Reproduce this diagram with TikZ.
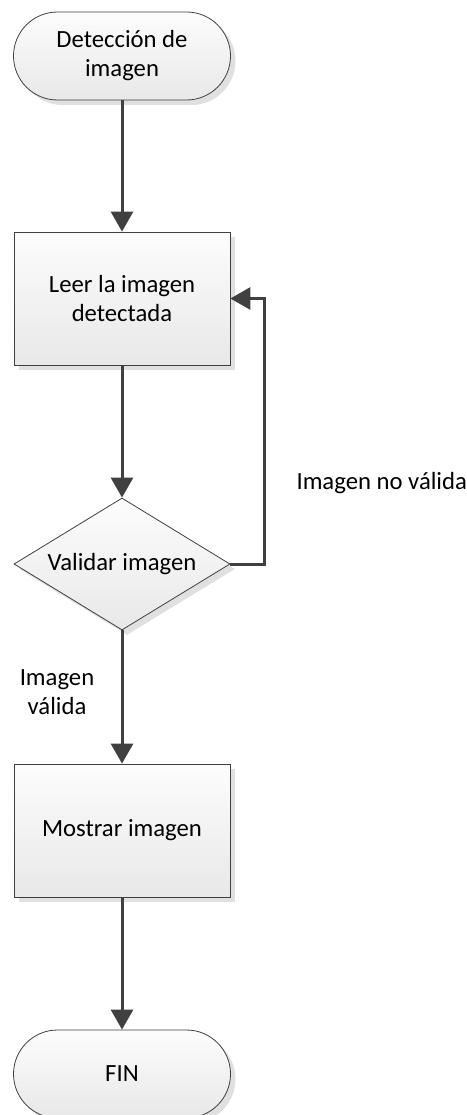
\documentclass[tikz,border=0pt]{standalone}
\usepackage{fontspec}
\setmainfont{Carlito}
\usetikzlibrary{shapes.geometric,arrows.meta,shadows}

\tikzset{
  base/.style={draw=black!75, line width=0.8pt, top color=black!1, bottom color=black!9,
    align=center, inner sep=0pt,
    drop shadow={shadow xshift=5pt, shadow yshift=-5pt, fill=black!12, opacity=1}},
  terminal/.style={base, rectangle, rounded corners=44pt, minimum width=217pt, minimum height=88pt},
  proceso/.style={base, rectangle, minimum width=216pt, minimum height=133pt},
  decision/.style={base, diamond, shape aspect=1.64, minimum width=216pt, minimum height=132pt},
  flecha/.style={draw=black!75, line width=3pt, -{Triangle[length=20pt,width=22pt]}}
}

\begin{document}
\begin{tikzpicture}[x=1pt, y=-1pt, every node/.style={font=\fontsize{24.7pt}{29pt}\selectfont}]

\useasboundingbox (0,0) rectangle (466,1115);

\node [terminal] (inicio) at (122,56) {Detección de\\imagen};
\node [proceso] (leer) at (122,298.5) {Leer la imagen\\detectada};
\node [decision] (validar) at (122,564) {Validar imagen};
\node [proceso] (mostrar) at (122,830.5) {Mostrar imagen};
\node [terminal] (fin) at (122,1074) {FIN};

\draw [flecha] (inicio) -- (leer);
\draw [flecha] (leer) -- (validar);
\draw [flecha] (validar) -- (mostrar);
\draw [flecha] (mostrar) -- (fin);
\draw [flecha] (validar.east) -- ++(34,0) |- (leer.east);

\node [anchor=base west] (novalida) at (293,489) {Imagen no válida};
\node [align=center] (valida) at (57,692) {Imagen\\válida};
\end{tikzpicture}
\end{document}
